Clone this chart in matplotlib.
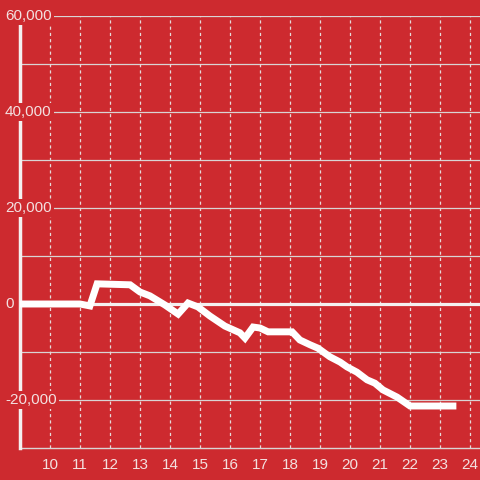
import matplotlib
matplotlib.use('Agg')
import matplotlib.pyplot as plt

# data
x_vals = [9, 11, 11.33, 11.57, 12.67, 13.0, 13.33, 13.83, 14.27, 14.6, 14.93, 15.33, 15.83,
          16.33, 16.5, 16.77, 17.0, 17.27, 18.07, 18.33, 18.67, 18.93, 19.33, 19.67, 19.9,
          20.23, 20.57, 20.83, 21.1, 21.57, 22.0, 23.43]
y_vals = [0, 0, -400, 4200, 4000, 2500, 1700, -200, -2100, 200, -600, -2500, -4600,
          -6000, -7100, -4800, -5000, -5800, -5800, -7500, -8500, -9200, -11000, -12100, -13100,
          -14200, -15800, -16500, -17900, -19400, -21250, -21250]
x_ticks = list(range(10, 25))
y_grid = list(range(-20000, 60001, 10000))
y_labels = [-20000, 0, 20000, 40000, 60000]

bg = '#cd2a2f'
txt = '#f3e0e0'
plt.rcParams['font.family'] = ['Liberation Sans', 'DejaVu Sans']

fig = plt.figure(figsize=(4.8, 4.8), dpi=100, facecolor=bg)
ax = fig.add_axes([20/480, 32/480, 460/480, 432/480], facecolor=bg)
ax.set_xlim(9, 9 + 460/30)
ax.set_ylim(-30000, 60000)

for v in y_grid:
    if v == 0:
        ax.axhline(v, color='#f4f0f0', lw=2.3, zorder=2)
    else:
        ax.axhline(v, color='#d9d4d4', lw=0.9, zorder=1)
for t in x_ticks:
    ax.axvline(t, color='#e6dada', lw=0.9, ls=(0, (2.5, 2.5)), zorder=1)

ax.plot(x_vals, y_vals, color='white', lw=5, solid_joinstyle='miter', zorder=4)

for s in ['top', 'right']:
    ax.spines[s].set_visible(False)
ax.spines['left'].set_color('#f4f0f0')
ax.spines['left'].set_linewidth(2.5)
ax.spines['left'].set_zorder(3)
ax.spines['bottom'].set_color('#d9d4d4')
ax.spines['bottom'].set_linewidth(1)

ax.set_xticks(x_ticks)
ax.set_xticklabels([str(t) for t in x_ticks])
ax.tick_params(axis='x', length=0, pad=7, labelsize=11, labelcolor=txt)
ax.set_yticks([])

for v in y_labels:
    ax.text(-15/460, v, f'{v:,}', transform=ax.get_yaxis_transform(), ha='left', va='center',
            fontsize=11, color=txt, zorder=6, clip_on=False,
            bbox=dict(facecolor=bg, edgecolor='none', pad=1.5))

fig.savefig('out.png', dpi=100, facecolor=bg)
